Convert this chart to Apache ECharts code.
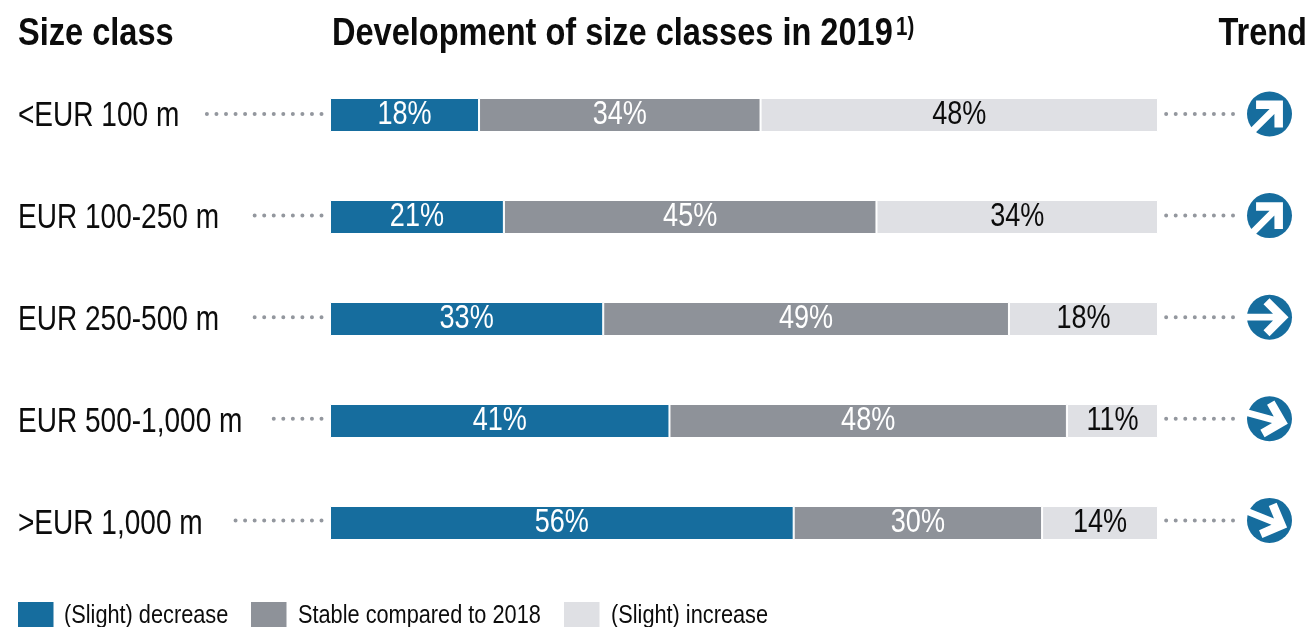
<!DOCTYPE html>
<html><head><meta charset="utf-8">
<style>html,body{margin:0;padding:0;background:#fff;overflow:hidden}#c{width:1310px;height:627px}</style>
<script src="https://cdn.jsdelivr.net/npm/echarts@6/dist/echarts.min.js"></script>
</head><body><div id="c"></div>
<script>
const categories = ['<EUR 100 m','EUR 100-250 m','EUR 250-500 m','EUR 500-1,000 m','>EUR 1,000 m'];
const decrease = [18,21,33,41,56];
const stable = [34,45,49,48,30];
const increase = [48,34,18,11,14];
const trendAngles = [45,45,0,-15,-22];
const seriesNames = ['(Slight) decrease','Stable compared to 2018','(Slight) increase'];
const leaderStarts = [205,247,248,271,232];

const FONT = '"Liberation Sans",Arial,sans-serif';
const NARROW = 0.82;
const BLUE='#166d9e', GREY='#8e9299', LIGHT='#dfe0e4', INK='#0c0c0c';
const chart = echarts.init(document.getElementById('c'),null,{renderer:'canvas'});
function bar(name,data,color){
  return {name,type:'bar',stack:'t',data,barWidth:34,
    itemStyle:{color,borderColor:'#fff',borderWidth:1},emphasis:{disabled:true}};
}
const labelData=[];
categories.forEach((c,i)=>{
  labelData.push([decrease[i]/2,i,decrease[i],'#fff']);
  labelData.push([decrease[i]+stable[i]/2,i,stable[i],'#fff']);
  labelData.push([decrease[i]+stable[i]+increase[i]/2,i,increase[i],INK]);
});
chart.setOption({
  animation:false,
  grid:{left:330,right:152,top:64,height:510},
  xAxis:{type:'value',min:0,max:100,show:false},
  yAxis:{type:'category',inverse:true,data:categories,
    axisLine:{show:false},axisTick:{show:false},axisLabel:{show:false}},
  series:[bar(seriesNames[0],decrease,BLUE),bar(seriesNames[1],stable,GREY),bar(seriesNames[2],increase,LIGHT),
    {type:'custom',name:'values',silent:true,data:labelData,encode:{x:0,y:1},z:5,
     renderItem(p,api){
       const pt=api.coord([api.value(0),api.value(1)]);
       const row=labelData[p.dataIndex];
       return {type:'text',x:pt[0],y:pt[1],scaleX:NARROW,
         style:{text:row[2]+'%',fill:row[3],font:'33px '+FONT,textAlign:'center',textVerticalAlign:'middle'}};
     }}]
});
const els=[];
function txt(text,x,y,size,bold,align){
  return {type:'text',silent:true,x,y,scaleX:NARROW,
    style:{text,fill:INK,font:(bold?'bold ':'')+size+'px '+FONT,textAlign:align||'left',textVerticalAlign:'middle'}};
}
els.push(txt('Size class',18,34,39.7,true));
els.push(txt('Development of size classes in 2019',332,34,39.7,true));
els.push(txt('1)',896,28,25,true));
els.push(txt('Trend',1307,34,39.7,true,'right'));
const arrow=[[-24,-3.4],[3.5,-3.4],[-6,-13],[0,-19],[19,0],[0,19],[-6,13],[3.5,3.4],[-24,3.4]];
categories.forEach((c,i)=>{
  const y=chart.convertToPixel({yAxisIndex:0},c);
  const ly=y-1-i*0.4;
  const dot={stroke:'#93979e',lineWidth:4,lineCap:'round',lineDash:[0,9.55]};
  els.push(txt(c,18,y+2,34.2,false));
  els.push({type:'line',silent:true,shape:{x1:321.5,y1:ly,x2:leaderStarts[i],y2:ly},style:dot});
  els.push({type:'line',silent:true,shape:{x1:1233,y1:ly,x2:1165,y2:ly},style:dot});
  const a=trendAngles[i]*Math.PI/180;
  const pts=arrow.map(([px,py])=>[px*Math.cos(a)+py*Math.sin(a),-px*Math.sin(a)+py*Math.cos(a)]);
  els.push({type:'group',x:1269.5,y:ly,silent:true,children:[
    {type:'circle',shape:{cx:0,cy:0,r:22.5},style:{fill:BLUE}},
    {type:'polygon',shape:{points:pts},style:{fill:'#fff'}}
  ]});
});
const legendX=[[18,64],[251,298],[564,611]];
const legendColors=[BLUE,GREY,LIGHT];
seriesNames.forEach((n,i)=>{
  els.push({type:'rect',silent:true,shape:{x:legendX[i][0],y:602,width:35.5,height:25},style:{fill:legendColors[i]}});
  els.push(txt(n,legendX[i][1],616,26.5,false));
});
chart.setOption({graphic:{elements:els}});
</script></body></html>
